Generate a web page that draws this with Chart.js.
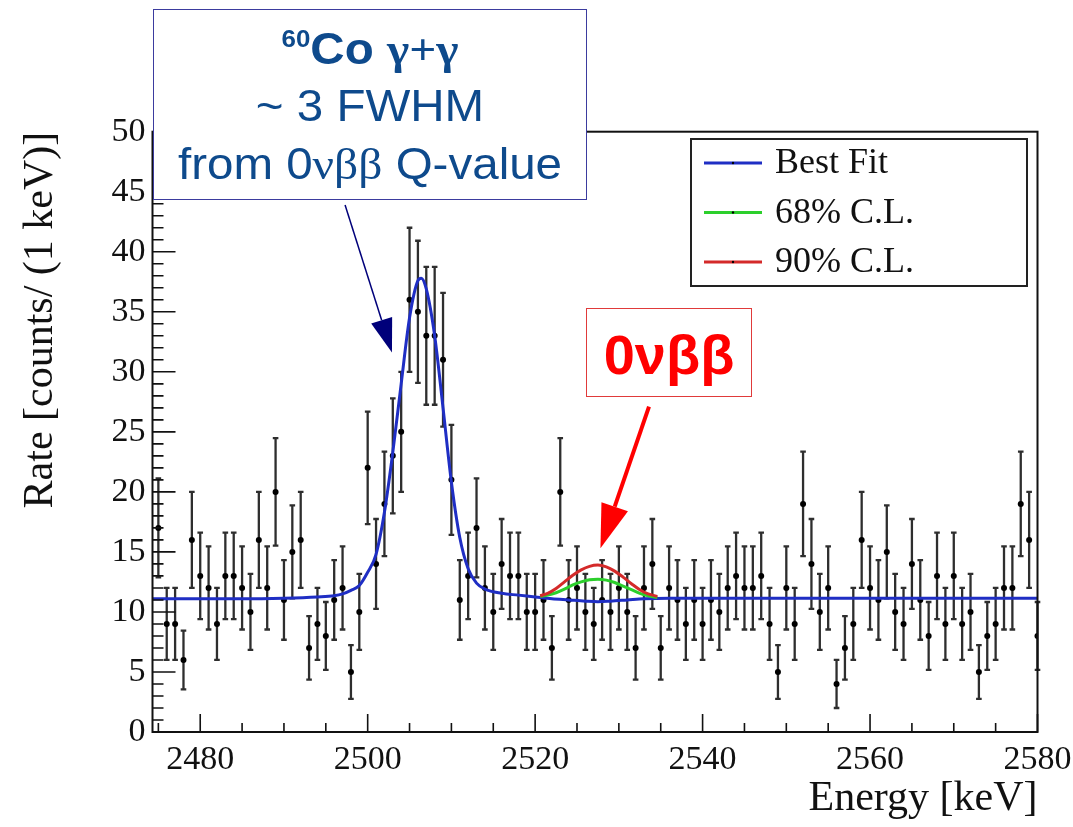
<!DOCTYPE html>
<html>
<head>
<meta charset="utf-8">
<title>Energy spectrum near the 0νββ Q-value</title>
<script src="https://cdn.jsdelivr.net/npm/chart.js@4.4.1/dist/chart.umd.min.js"></script>
<style>
  html, body { margin: 0; padding: 0; background: #fff; }
  #wrap { position: relative; width: 1073px; height: 827px; overflow: hidden; }
  #plot { position: absolute; left: 0; top: 0; }
  .note { position: absolute; background: #fff; box-sizing: border-box; }
  .note .line { position: absolute; left: 0; right: 0; text-align: center; white-space: nowrap; line-height: 1; }
  #coNote { left: 153px; top: 9px; width: 434px; height: 191px; border: 1.5px solid #3b3b9e; color: #0e4a8c;
            font-family: "Liberation Sans", Arial, sans-serif; font-size: 44px; }
  #coNote .line { transform: scaleX(1.08); }
  #coNote .greek { font-family: "Liberation Serif", serif; }
  #coNote sup { font-size: 24px; position: relative; top: -17px; vertical-align: baseline; }
  #qNote { left: 586px; top: 308px; width: 166px; height: 89px; border: 1.5px solid #e03a3a; color: #ff0000;
           font-family: "Liberation Sans", Arial, sans-serif; font-size: 56px; font-weight: bold; }
</style>
</head>
<body>
<div id="wrap">
  <canvas id="plot" width="1073" height="827"></canvas>
  <div class="note" id="coNote">
    <div class="line" style="top: 17px; font-weight: bold;"><sup>60</sup>Co <span class="greek">γ+γ</span></div>
    <div class="line" style="top: 74px;">~ 3 FWHM</div>
    <div class="line" style="top: 132px;">from 0<span class="greek">νββ</span> Q-value</div>
  </div>
  <div class="note" id="qNote">
    <div class="line" style="top: 18px;">0νββ</div>
  </div>
</div>
<script>
// Spectrum: counts per 1 keV bin, first bin centred at 2475 keV
const firstBin = 2475;
const counts = [
  17, 9, 9, 6, 16, 13, 12, 9, 13, 13,     // 2475-2484
  12, 10, 16, 12, 20, 11, 15, 16, 7, 9,   // 2485-2494
  8, 11, 12, 5, 10, 22, 14, 19, 23, 25,   // 2495-2504
  36, 35, 33, 33, 31, 21, 11, 13, 17, 12, // 2505-2514
  10, 14, 13, 13, 10, 10, 11, 7, 20, 11,  // 2515-2524
  12, 10, 9, 11, 10, 12, 10, 7, 12, 14,   // 2525-2534
  7, 12, 11, 9, 11, 9, 11, 10, 12, 13,    // 2535-2544
  12, 12, 13, 9, 5, 12, 9, 19, 14, 10,    // 2545-2554
  12, 4, 7, 9, 16, 12, 11, 15, 10, 9,     // 2555-2564
  14, 11, 8, 13, 9, 13, 9, 10, 5, 8,      // 2565-2574
  9, 12, 12, 19, 16, 8                    // 2575-2580
];
const energies = counts.map((_, i) => firstBin + i);

// Best fit curve (background + 60Co sum peak + signal)
const bestFitEnergy = [2474.3, 2485, 2490, 2494, 2496, 2497, 2498, 2499, 2500, 2501, 2502, 2503, 2504, 2505,
  2506, 2506.4, 2507, 2508, 2509, 2510, 2511, 2512, 2513, 2514, 2516, 2518, 2520, 2522, 2524, 2526,
  2527.5, 2529, 2531, 2533, 2536, 2580];
const bestFitRate = [11.1, 11.1, 11.15, 11.25, 11.35, 11.5, 11.8, 12.2, 13.3, 14.8, 18.3, 23.3, 29.0, 34.5,
  37.6, 37.8, 36.9, 33.0, 27.0, 20.8, 16.2, 13.6, 12.4, 11.9, 11.55, 11.4, 11.25, 11.1, 11.0, 10.9,
  10.85, 10.9, 11.0, 11.1, 11.15, 11.15];

// Signal hypotheses at the upper limits
const clEnergy = [2520.6, 2521.5, 2522.5, 2523.5, 2524.5, 2525.5, 2526.5, 2527.5, 2528.5, 2529.5, 2530.5,
  2531.5, 2532.5, 2533.5, 2534.6];
const cl68Rate = [11.3, 11.4, 11.6, 11.9, 12.25, 12.5, 12.68, 12.72, 12.65, 12.45, 12.15, 11.85, 11.55, 11.35, 11.2];
const cl90Rate = [11.35, 11.55, 11.95, 12.5, 13.05, 13.5, 13.8, 13.9, 13.75, 13.4, 12.9, 12.35, 11.85, 11.5, 11.3];

const xTicks = [2480, 2500, 2520, 2540, 2560, 2580];
const yTicks = [0, 5, 10, 15, 20, 25, 30, 35, 40, 45, 50];
const xRange = [2474.3, 2580];
const yRange = [0, 50];

const serif = '"Liberation Serif", "Times New Roman", serif';

function toPoints(xs, ys) {
  return xs.map((x, i) => ({ x: x, y: ys[i] }));
}

// Poisson error bars under the data points
const errorBars = {
  id: 'errorBars',
  beforeDatasetsDraw(chart) {
    const { ctx, scales: { x, y } } = chart;
    ctx.save();
    ctx.strokeStyle = '#2e2e2e';
    ctx.lineWidth = 2.3;
    energies.forEach((e, i) => {
      const err = Math.sqrt(counts[i]);
      const px = x.getPixelForValue(e);
      const top = y.getPixelForValue(counts[i] + err);
      const bot = y.getPixelForValue(counts[i] - err);
      ctx.beginPath();
      ctx.moveTo(px, top); ctx.lineTo(px, bot);
      ctx.moveTo(px - 2.8, top); ctx.lineTo(px + 2.8, top);
      ctx.moveTo(px - 2.8, bot); ctx.lineTo(px + 2.8, bot);
      ctx.stroke();
    });
    ctx.restore();
  }
};

// Frame with inward tick marks
const frameTicks = {
  id: 'frameTicks',
  afterDraw(chart) {
    const { ctx, chartArea: a, scales: { x, y } } = chart;
    ctx.save();
    ctx.strokeStyle = '#111';
    ctx.lineWidth = 2;
    ctx.strokeRect(a.left, a.top, a.right - a.left, a.bottom - a.top);
    ctx.lineWidth = 1.6;
    ctx.beginPath();
    for (let v = yRange[0]; v <= yRange[1]; v += 1) {
      const py = y.getPixelForValue(v);
      const len = v % 5 === 0 ? 23 : 11;
      ctx.moveTo(a.left, py); ctx.lineTo(a.left + len, py);
    }
    for (let v = 2475; v <= xRange[1]; v += 5) {
      const px = x.getPixelForValue(v);
      const len = v % 20 === 0 ? 18 : 9;
      ctx.moveTo(px, a.bottom); ctx.lineTo(px, a.bottom - len);
    }
    ctx.stroke();
    ctx.restore();
  }
};

// Legend box inside the frame
const legendEntries = [
  { label: 'Best Fit', color: '#1f2ec4' },
  { label: '68% C.L.', color: '#2ccf2c' },
  { label: '90% C.L.', color: '#d42a2a' }
];
const legendBox = {
  id: 'legendBox',
  afterDraw(chart) {
    const { ctx } = chart;
    ctx.save();
    ctx.fillStyle = '#fff';
    ctx.fillRect(691, 139, 336, 147);
    ctx.strokeStyle = '#222';
    ctx.lineWidth = 2;
    ctx.strokeRect(691, 139, 336, 147);
    ctx.font = '36px ' + serif;
    ctx.textBaseline = 'middle';
    legendEntries.forEach((item, i) => {
      const ly = 163 + i * 49.5;
      ctx.strokeStyle = item.color;
      ctx.lineWidth = 3;
      ctx.beginPath();
      ctx.moveTo(704, ly); ctx.lineTo(762, ly);
      ctx.stroke();
      ctx.fillStyle = '#000';
      ctx.beginPath();
      ctx.arc(733, ly, 1.2, 0, Math.PI * 2);
      ctx.fill();
      ctx.fillStyle = '#111';
      ctx.fillText(item.label, 775, ly + 1);
    });
    ctx.restore();
  }
};

// Arrows from the notes to the peaks, given in data coordinates
const arrows = [
  { from: [2497.3, 43.9], to: [2502.9, 31.6], color: '#00007a', width: 1.5, head: 34, half: 11 },
  { from: [2533.6, 27.1], to: [2527.8, 15.3], color: '#ff0000', width: 4, head: 44, half: 14 }
];
const arrowDraw = {
  id: 'arrowDraw',
  afterDraw(chart) {
    const { ctx, scales: { x, y } } = chart;
    ctx.save();
    arrows.forEach(a => {
      const x0 = x.getPixelForValue(a.from[0]), y0 = y.getPixelForValue(a.from[1]);
      const x1 = x.getPixelForValue(a.to[0]), y1 = y.getPixelForValue(a.to[1]);
      const ang = Math.atan2(y1 - y0, x1 - x0);
      const bx = x1 - a.head * Math.cos(ang), by = y1 - a.head * Math.sin(ang);
      ctx.strokeStyle = a.color;
      ctx.fillStyle = a.color;
      ctx.lineWidth = a.width;
      ctx.beginPath();
      ctx.moveTo(x0, y0); ctx.lineTo(bx, by);
      ctx.stroke();
      ctx.beginPath();
      ctx.moveTo(x1, y1);
      ctx.lineTo(bx + a.half * Math.sin(ang), by - a.half * Math.cos(ang));
      ctx.lineTo(bx - a.half * Math.sin(ang), by + a.half * Math.cos(ang));
      ctx.closePath();
      ctx.fill();
    });
    ctx.restore();
  }
};

const curveStyle = { pointRadius: 0, borderWidth: 3, cubicInterpolationMode: 'monotone', fill: false };
const plainNumber = v => String(v);

new Chart(document.getElementById('plot').getContext('2d'), {
  type: 'line',
  data: {
    datasets: [
      Object.assign({ label: '90% C.L.', data: toPoints(clEnergy, cl90Rate), borderColor: '#d42a2a', order: 1 }, curveStyle),
      Object.assign({ label: '68% C.L.', data: toPoints(clEnergy, cl68Rate), borderColor: '#2ccf2c', order: 2 }, curveStyle),
      Object.assign({ label: 'Best Fit', data: toPoints(bestFitEnergy, bestFitRate), borderColor: '#1f2ec4', order: 3 }, curveStyle),
      {
        label: 'Data',
        data: toPoints(energies, counts),
        showLine: false,
        pointRadius: 3,
        pointBackgroundColor: '#000',
        pointBorderWidth: 0,
        order: 4
      }
    ]
  },
  options: {
    responsive: false,
    animation: false,
    devicePixelRatio: 1,
    layout: { padding: { left: 0, right: 35.5, top: 131.7, bottom: 0 } },
    plugins: { legend: { display: false }, tooltip: { enabled: false } },
    scales: {
      x: {
        type: 'linear',
        min: xRange[0],
        max: xRange[1],
        grid: { display: false, drawTicks: false },
        border: { display: false },
        afterBuildTicks: s => { s.ticks = xTicks.map(v => ({ value: v })); },
        // fixed box height; label overflow is covered by the layout padding
        afterFit: s => { s.height = 95; s.paddingLeft = 0; s.paddingRight = 0; },
        ticks: { font: { family: serif, size: 34 }, color: '#111', padding: 8, maxRotation: 0, autoSkip: false,
                 callback: plainNumber },
        title: { display: true, text: 'Energy [keV]', align: 'end', color: '#111',
                 font: { family: serif, size: 42 }, padding: { top: 0, bottom: 3 } }
      },
      y: {
        min: yRange[0],
        max: yRange[1],
        grid: { display: false, drawTicks: false },
        border: { display: false },
        afterBuildTicks: s => { s.ticks = yTicks.map(v => ({ value: v })); },
        afterFit: s => { s.width = 152.5; s.paddingTop = 0; s.paddingBottom = 0; },
        ticks: { font: { family: serif, size: 34 }, color: '#111', padding: 7, callback: plainNumber },
        title: { display: true, text: 'Rate [counts/ (1 keV)]', align: 'end', color: '#111',
                 font: { family: serif, size: 42 }, padding: { top: 16, bottom: 0 } }
      }
    }
  },
  plugins: [errorBars, frameTicks, legendBox, arrowDraw]
});
</script>
</body>
</html>
